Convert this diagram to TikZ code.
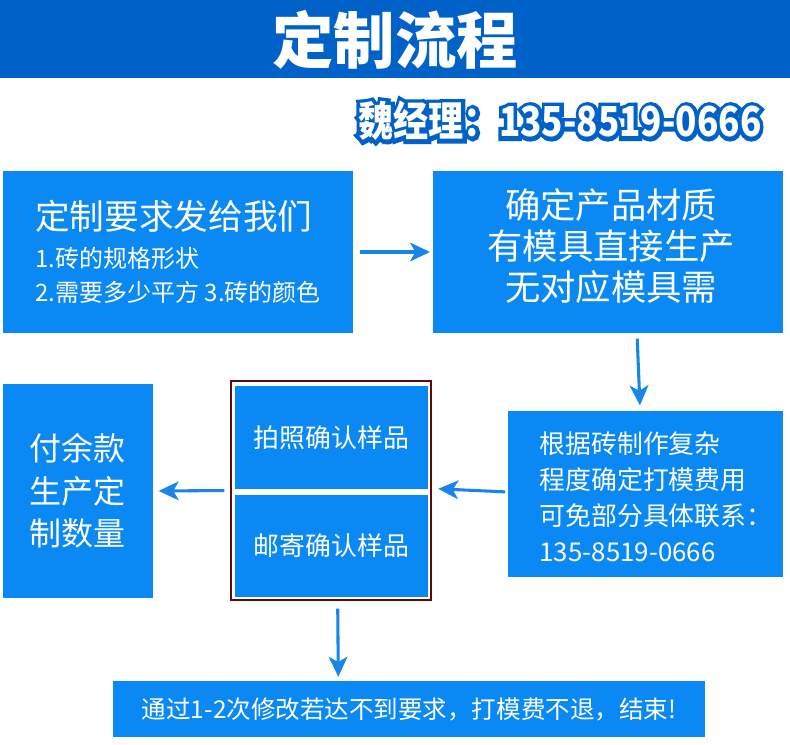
\documentclass[tikz,border=0pt]{standalone}
\usepackage{fontspec}
\setmainfont{Noto Sans CJK SC}
\newfontfamily\rimfont{Noto Sans CJK SC}[FakeBold=20]
\usetikzlibrary{arrows.meta}
\definecolor{barblue}{RGB}{0,98,200}
\definecolor{boxblue}{RGB}{10,137,245}
\definecolor{arrblue}{RGB}{24,134,232}
\definecolor{framered}{RGB}{92,12,12}
\newcommand{\phonetext}{魏经理：135-8519-0666}
\begin{document}
\begin{tikzpicture}[x=0.75pt,y=-0.75pt,
    box/.style={fill=boxblue,text=white,inner sep=0pt},
    boxtext/.style={text=white,inner sep=0pt},
    arr/.style={draw=arrblue,line width=2.3pt,-{Stealth[length=15pt,width=14pt,inset=4pt]}}]
    \useasboundingbox (0,0) rectangle (790,744);
    % title bar
    \node[fill=barblue,minimum width=592.5pt,minimum height=58.5pt,inner sep=0pt] (bar) at (395,39) {};
    \node[text=white,font=\fontsize{46}{50}\selectfont\bfseries] (title) at (395,40) {定制流程};
    % contact line: blue rim under white letters
    \node[text=barblue,font=\fontsize{31}{34}\selectfont\rimfont\bfseries] (phonerim) at (560,121)
        {\scalebox{0.85}[1]{\phonetext}};
    \node[text=white,font=\fontsize{31}{34}\selectfont\bfseries] (phone) at (phonerim.center)
        {\scalebox{0.85}[1]{\phonetext}};
    % first row
    \node[box,minimum width=262.5pt,minimum height=121.5pt,align=left,
        font=\fontsize{18}{25.5}\selectfont] (req) at (178,252)
        {{\fontsize{26}{30}\selectfont 定制要求发给我们}\\[3pt]
         1.砖的规格形状\\
         2.需要多少平方 3.砖的颜色};
    \node[box,minimum width=262.5pt,minimum height=121.5pt] (mold) at (608,252) {};
    \node[boxtext,align=center,font=\fontsize{26.5}{31}\selectfont] (moldtext) at (611,246)
        {确定产品材质\\有模具直接生产\\无对应模具需};
    % second row
    \node[box,minimum width=206.25pt,minimum height=124.5pt] (fee) at (645.5,494) {};
    \node[boxtext,align=left,font=\fontsize{19.4}{27}\selectfont] (feetext) at (656,497)
        {根据砖制作复杂\\程度确定打模费用\\可免部分具体联系：\\135-8519-0666};
    \node[draw=framered,line width=0.8pt,fill=white,minimum width=150pt,minimum height=164.25pt,
        inner sep=0pt] (sample) at (331,490.5) {};
    \node[box,minimum width=144.75pt,minimum height=77.25pt,font=\fontsize{19.4}{24}\selectfont]
        (photo) at (331.5,437.5) {拍照确认样品};
    \node[box,minimum width=144.75pt,minimum height=76.5pt,font=\fontsize{19.4}{24}\selectfont]
        (mail) at (331.5,546) {邮寄确认样品};
    \node[box,minimum width=112.5pt,minimum height=160.5pt,align=left,
        font=\fontsize{24}{32}\selectfont] (pay) at (78,491)
        {付余款\\生产定\\制数量};
    % last row
    \node[box,minimum width=444pt,minimum height=42pt,font=\fontsize{18.4}{22}\selectfont]
        (done) at (409,709) {通过1-2次修改若达不到要求，打模费不退，结束!};
    % arrows
    \draw[arr,shorten <=5pt,shorten >=2pt] (req.east) -- (mold.west);
    \draw[arr,shorten <=4pt,shorten >=4pt] ([xshift=21.75pt]mold.south) -- ([xshift=-4pt]fee.north);
    \draw[arr,shorten <=2pt,shorten >=5pt] ([yshift=1.5pt]fee.west) -- ([yshift=1.5pt]sample.east);
    \draw[arr,shorten <=4.5pt,shorten >=4pt] (sample.west) -- (pay.west -| pay.east);
    \draw[arr,shorten <=6pt,shorten >=3pt] ([xshift=5pt]sample.south) -- ([xshift=-53pt]done.north);
\end{tikzpicture}
\end{document}
